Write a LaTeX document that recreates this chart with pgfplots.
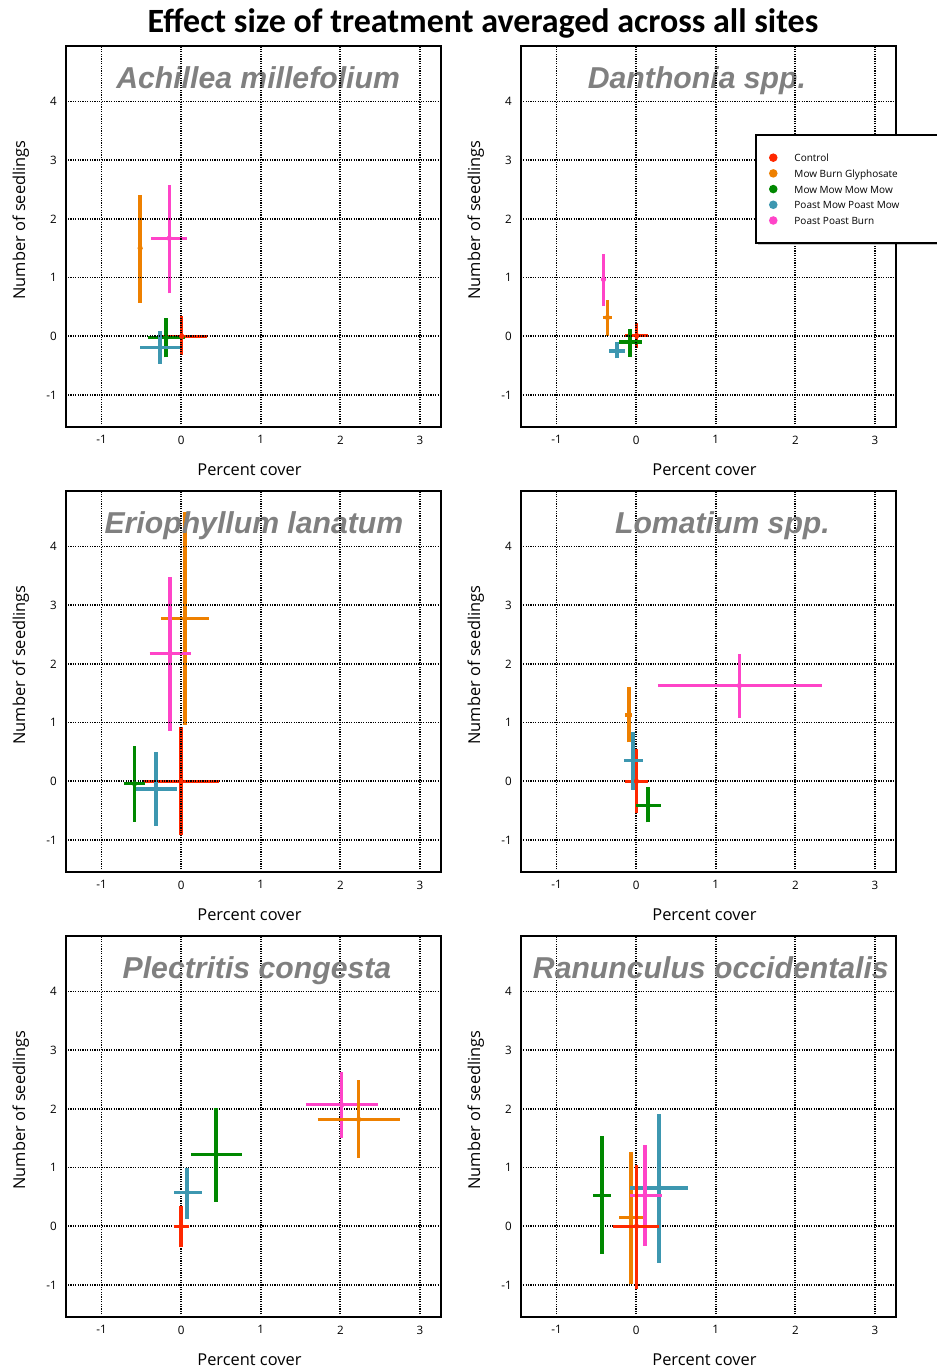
\documentclass[border=0pt]{standalone}
\usepackage{fontspec}
\usepackage{pgfplots}
\pgfplotsset{compat=1.18}
\newfontfamily\lab{Open Sans}
\newfontfamily\ttl{Carlito}
\newfontfamily\ptl{Liberation Sans}
\definecolor{cRed}{RGB}{255,40,0}
\definecolor{cOra}{RGB}{238,128,0}
\definecolor{cGre}{RGB}{0,136,0}
\definecolor{cTea}{RGB}{61,151,176}
\definecolor{cPin}{RGB}{255,68,200}
\definecolor{cGray}{RGB}{128,128,128}
% color, x, y, xleft, xright, ybottom, ytop
\newcommand{\cross}[7]{%
 \addplot[#1, line width=1.7pt, forget plot] coordinates {(#4,#3) (#5,#3)};
 \addplot[#1, line width=1.7pt, forget plot] coordinates {(#2,#6) (#2,#7)};
 \addplot[#1, only marks, mark=*, mark size=1.1pt, forget plot] coordinates {(#2,#3)};
}
\newcommand{\ptitle}[2]{\node[font=\ptl\bfseries\itshape\fontsize{15.1}{17}\selectfont, text=cGray, anchor=base, inner sep=0pt] at (rel axis cs:#1,0.8875) {#2};}
\pgfplotsset{panel/.style={
 scale only axis, width=187.5pt, height=190.5pt,
 xmin=-1.45, xmax=3.26, ymin=-1.54, ymax=4.95,
 xtick={-1,0,1,2,3}, ytick={-1,0,1,2,3,4},
 grid=major, major grid style={black, line width=0.9pt, dash pattern=on 0.6pt off 0.6pt},
 major tick length=0pt,
 axis line style={line width=1pt},
 tick label style={font=\lab\fontsize{5.8}{6}\selectfont},
 /pgf/number format/assume math mode=true,
 xticklabel style={anchor=north, inner sep=0pt, yshift=-4.3pt},
 yticklabel style={anchor=east, inner sep=0pt, xshift=-4.3pt},
 xlabel={Percent cover}, ylabel={Number of seedlings},
 label style={font=\lab\fontsize{8.2}{9}\selectfont},
 xlabel style={at={(rel axis cs:0.49,0)}, anchor=base, yshift=-24.15pt, inner sep=0pt},
 ylabel style={at={(rel axis cs:-0.1085,0.5425)}, anchor=base, inner sep=0pt},
}}
\begin{document}
\begin{tikzpicture}
\path[use as bounding box, clip] (0pt,0pt) rectangle (468.5pt,686pt);
\node[anchor=base, inner sep=0pt, font=\ttl\bfseries\fontsize{17}{19}\selectfont] at (241.5pt,669.5pt) {Effect size of treatment averaged across all sites};

% Panel 1
\begin{axis}[panel, axis on top, at={(32.85pt,663.15pt)}, anchor=north west]
\cross{cOra}{-0.515}{1.5}{-0.53}{-0.50}{0.574}{2.40}
\cross{cPin}{-0.15}{1.67}{-0.377}{0.075}{0.733}{2.57}
\cross{cRed}{0.008}{0}{-0.30}{0.32}{-0.324}{0.347}
\cross{cGre}{-0.188}{-0.023}{-0.418}{0.05}{-0.358}{0.307}
\cross{cTea}{-0.264}{-0.19}{-0.515}{-0.02}{-0.47}{0.09}
\ptitle{0.513}{Achillea millefolium}
\end{axis}

% legend shadow
\fill[black!22] (379.2pt,563.6pt) rectangle (472pt,616.5pt);

% Panel 2
\begin{axis}[panel, axis on top, at={(260.35pt,663.15pt)}, anchor=north west,
 legend style={at={(rel axis cs:0.625,0.7675)}, anchor=north west, draw=black, line width=1pt, fill=white,
  font=\lab\fontsize{5}{6}\selectfont, inner xsep=6.5pt, inner ysep=8pt, row sep=1.45pt,
  nodes={inner sep=0pt, text height=5.3pt, text depth=1.1pt}},
 legend cell align=left]
\addlegendimage{legend image code/.code={\fill[cRed] (0pt,0pt) circle (1.6pt);}}
\addlegendentry{\hspace*{8.5pt}\makebox[80pt][l]{Control}}
\addlegendimage{legend image code/.code={\fill[cOra] (0pt,0pt) circle (1.6pt);}}
\addlegendentry{\hspace*{8.5pt}Mow Burn Glyphosate}
\addlegendimage{legend image code/.code={\fill[cGre] (0pt,0pt) circle (1.6pt);}}
\addlegendentry{\hspace*{8.5pt}Mow Mow Mow Mow}
\addlegendimage{legend image code/.code={\fill[cTea] (0pt,0pt) circle (1.6pt);}}
\addlegendentry{\hspace*{8.5pt}Poast Mow Poast Mow}
\addlegendimage{legend image code/.code={\fill[cPin] (0pt,0pt) circle (1.6pt);}}
\addlegendentry{\hspace*{8.5pt}Poast Poast Burn}
\cross{cPin}{-0.41}{0.97}{-0.42}{-0.40}{0.52}{1.40}
\cross{cOra}{-0.36}{0.32}{-0.42}{-0.305}{0.0}{0.62}
\cross{cTea}{-0.24}{-0.25}{-0.34}{-0.14}{-0.375}{-0.1}
\cross{cRed}{0.008}{0.01}{-0.14}{0.146}{-0.2}{0.23}
\cross{cGre}{-0.075}{-0.1}{-0.213}{0.07}{-0.35}{0.13}
\ptitle{0.470}{Danthonia spp.}
\end{axis}

% Panel 3
\begin{axis}[panel, axis on top, at={(32.85pt,440.65pt)}, anchor=north west]
\cross{cOra}{0.046}{2.77}{-0.255}{0.356}{0.966}{4.59}
\cross{cPin}{-0.138}{2.18}{-0.397}{0.126}{0.864}{3.48}
\cross{cRed}{0}{0}{-0.48}{0.477}{-0.92}{0.92}
\cross{cTea}{-0.314}{-0.13}{-0.577}{-0.054}{-0.756}{0.5}
\cross{cGre}{-0.586}{-0.04}{-0.724}{-0.452}{-0.693}{0.597}
\ptitle{0.502}{Eriophyllum lanatum}
\end{axis}

% Panel 4
\begin{axis}[panel, at={(260.35pt,440.65pt)}, anchor=north west]
\cross{cPin}{1.297}{1.63}{0.272}{2.335}{1.08}{2.17}
\cross{cOra}{-0.092}{1.13}{-0.134}{-0.05}{0.665}{1.6}
\cross{cRed}{0.004}{0}{-0.146}{0.146}{-0.545}{0.55}
\cross{cTea}{-0.038}{0.352}{-0.155}{0.088}{-0.142}{0.84}
\cross{cGre}{0.15}{-0.41}{-0.008}{0.318}{-0.7}{-0.102}
\ptitle{0.538}{Lomatium spp.}
\end{axis}

% Panel 5
\begin{axis}[panel, at={(32.85pt,218.15pt)}, anchor=north west]
\cross{cPin}{2.017}{2.07}{1.564}{2.478}{1.5}{2.63}
\cross{cOra}{2.23}{1.82}{1.715}{2.75}{1.163}{2.485}
\cross{cGre}{0.44}{1.225}{0.126}{0.767}{0.42}{2.02}
\cross{cTea}{0.075}{0.575}{-0.084}{0.264}{0.13}{1.0}
\cross{cRed}{0}{0}{-0.092}{0.096}{-0.36}{0.35}
\ptitle{0.510}{Plectritis congesta}
\end{axis}

% Panel 6
\begin{axis}[panel, at={(260.35pt,218.15pt)}, anchor=north west]
\cross{cGre}{-0.43}{0.525}{-0.54}{-0.318}{-0.47}{1.53}
\cross{cOra}{-0.067}{0.148}{-0.21}{0.08}{-0.975}{1.26}
\cross{cTea}{0.289}{0.655}{-0.08}{0.648}{-0.62}{1.92}
\cross{cPin}{0.109}{0.525}{-0.08}{0.326}{-0.337}{1.39}
\cross{cRed}{0.004}{0}{-0.297}{0.293}{-1.06}{1.04}
\ptitle{0.507}{Ranunculus occidentalis}
\end{axis}
\end{tikzpicture}
\end{document}
